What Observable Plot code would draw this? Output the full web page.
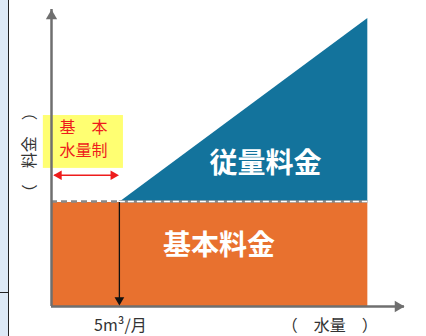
<!DOCTYPE html>
<html>
<head>
<meta charset="utf-8">
<script src="https://cdn.jsdelivr.net/npm/d3@7"></script>
<script src="https://cdn.jsdelivr.net/npm/@observablehq/plot@0.6"></script>
<style>
  html, body { margin: 0; padding: 0; background: white; }
  #wrap { position: relative; width: 426px; height: 336px; overflow: hidden; }
  #strip { position: absolute; left: 0; top: 0; width: 8px; height: 336px; background: #dde9f6; z-index: 2; }
  #vline { position: absolute; left: 8px; top: 0; width: 1px; height: 336px; background: #222; z-index: 3; }
  #hline { position: absolute; left: 0; top: 292px; width: 9px; height: 1px; background: #222; z-index: 3; }
  g[aria-label="fee-label"] text { filter: drop-shadow(1.5px 1.5px 1px rgba(0,0,0,0.35)); }
</style>
</head>
<body>
<div id="wrap">
  <div id="strip"></div><div id="vline"></div><div id="hline"></div>
</div>
<script>
// Data
const feeNames = ["基本料金", "従量料金"];
const volumes = [0, 5, 23.3];          // water volume (m³/month)
const charges = [35, 35, 97];          // charge (relative units)
const basicVolume = 5;                 // basic volume 5 m³/月
const basicCharge = 35;
const xTickLabel = "5m³/月";
const xTitle = "（　水量　）";
const yTitle = "（　料金　）";
const basicLabel = ["基　本", "水量制"];

const xMax = 26, yMax = 100;
const base = volumes.map(v => ({x: v, y1: 0, y2: basicCharge}));
const usage = volumes.slice(1).map((v, i) => ({x: v, y1: basicCharge, y2: charges[i + 1]}));

const font = "Noto Sans CJK JP";
const axisGray = "#6f6f6f";
const red = "#ee1c1c";

const plot = Plot.plot({
  width: 426,
  height: 336,
  marginLeft: 51,
  marginRight: 22,
  marginTop: 9,
  marginBottom: 30,
  x: {domain: [0, xMax], axis: null},
  y: {domain: [0, yMax], axis: null},
  style: {fontFamily: font, background: "transparent"},
  marks: [
    // yellow annotation box
    Plot.rect([{}], {x1: -0.6, x2: 5.3, y1: 46.5, y2: 64.3, fill: "#ffff3c", fillOpacity: 0.72}),
    // base charge (orange)
    Plot.areaY(base, {x: "x", y1: "y1", y2: "y2", fill: "#e8712f"}),
    // usage charge (blue triangle)
    Plot.areaY(usage, {x: "x", y1: "y1", y2: "y2", fill: "#13739c"}),
    // boundary line
    Plot.ruleY([basicCharge], {x1: basicVolume, x2: volumes[2], stroke: "#8a8a8a", strokeWidth: 2.5, dy: -1}),
    Plot.ruleY([basicCharge], {x1: basicVolume, x2: volumes[2], stroke: "white", strokeWidth: 1.5, strokeDasharray: "6,3", dy: -1}),
    Plot.ruleY([basicCharge], {x1: 0, x2: basicVolume, stroke: "#8a8a8a", strokeWidth: 2.5, strokeDasharray: "6,4", dy: -1}),
    // axes
    Plot.ruleX([0], {y1: 0, y2: yMax, stroke: axisGray, strokeWidth: 2.5}),
    Plot.dot([{x: 0, y: yMax}], {x: "x", y: "y", symbol: "triangle", r: 4.2, fill: axisGray, stroke: "none", dy: 6.5}),
    Plot.ruleY([0], {x1: 0, x2: xMax, stroke: axisGray, strokeWidth: 2.5}),
    Plot.dot([{x: xMax, y: 0}], {x: "x", y: "y", symbol: "triangle", rotate: 90, r: 4.2, fill: axisGray, stroke: "none", dx: -6.5}),
    // black arrow at basic volume
    Plot.ruleX([basicVolume], {y1: basicCharge, y2: 2, stroke: "#111", strokeWidth: 1.3}),
    Plot.dot([{x: basicVolume, y: 0}], {x: "x", y: "y", symbol: "triangle", rotate: 180, r: 3.6, fill: "#111", stroke: "none", dy: -6.5}),
    // red double arrow
    Plot.ruleY([44.2], {x1: 0.25, x2: basicVolume - 0.3, stroke: red, strokeWidth: 1.5}),
    Plot.dot([{x: 0.1, y: 44.2}], {x: "x", y: "y", symbol: "triangle", rotate: -90, r: 3.6, fill: red, stroke: "none", dx: 6}),
    Plot.dot([{x: basicVolume, y: 44.2}], {x: "x", y: "y", symbol: "triangle", rotate: 90, r: 3.6, fill: red, stroke: "none", dx: -6}),
    // red annotation text
    Plot.text([basicLabel[0]], {x: 2.36, y: 60.2, text: d => d, fill: red, fontSize: 16, fontFamily: font}),
    Plot.text([basicLabel[1]], {x: 2.36, y: 52.3, text: d => d, fill: red, fontSize: 16, fontFamily: font}),
    // fee labels
    Plot.text([feeNames[1]], {x: 15.76, y: 48.1, text: d => d, fill: "white", fontSize: 28, fontWeight: "bold", fontFamily: font, ariaLabel: "fee-label"}),
    Plot.text([feeNames[0]], {x: 12.33, y: 20.5, text: d => d, fill: "white", fontSize: 28, fontWeight: "bold", fontFamily: font, ariaLabel: "fee-label"}),
    // axis labels
    Plot.text([xTickLabel], {x: basicVolume, y: 0, dx: 1, dy: 19, text: d => d, fill: "#333", fontSize: 16, fontFamily: font}),
    Plot.text([xTitle], {x: 20.5, y: 0, dy: 19, text: d => d, fill: "#333", fontSize: 16, fontFamily: font}),
    Plot.text([yTitle], {x: 0, y: 51.9, dx: -22, text: d => d, rotate: -90, fill: "#333", fontSize: 16, fontFamily: font})
  ]
});
document.getElementById("wrap").appendChild(plot);
</script>
</body>
</html>
